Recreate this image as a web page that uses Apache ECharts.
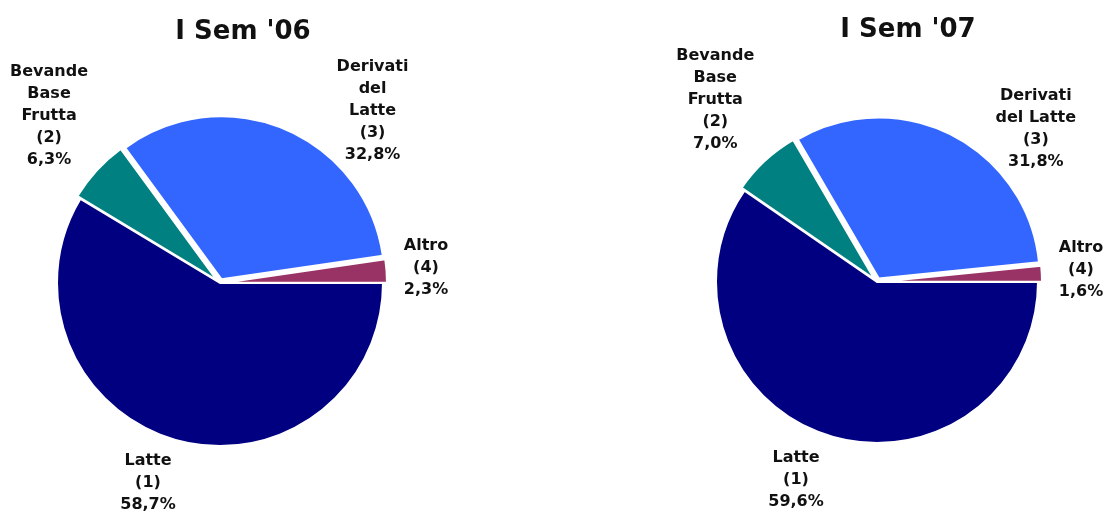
<!DOCTYPE html>
<html>
<head>
<meta charset="utf-8">
<script src="https://cdn.jsdelivr.net/npm/echarts@6/dist/echarts.min.js"></script>
<style>
  html, body { margin: 0; padding: 0; background: #fff; }
  #chart { width: 1109px; height: 512px; }
</style>
</head>
<body>
<div id="chart"></div>
<script>
// dati
var codes = [1, 2, 3, 4];
var colors = ['#000080', '#008080', '#3366ff', '#993366'];
var names06 = ['Latte', 'Bevande\nBase\nFrutta', 'Derivati\ndel\nLatte', 'Altro'];
var names07 = ['Latte', 'Bevande\nBase\nFrutta', 'Derivati\ndel Latte', 'Altro'];
var values06 = [58.7, 6.3, 32.8, 2.3];
var values07 = [59.6, 7.0, 31.8, 1.6];
var titles = ["I Sem '06", "I Sem '07"];

// centro del blocco di testo delle etichette
var labelPos = [
  [[148, 483], [52, 119], [371, 115], [422, 268]],
  [[796, 480], [718, 103], [1034, 132], [1077, 270]]
];

var font = 'DejaVu Sans';

function buildData(names, values) {
  return values.map(function (v, i) {
    return {
      name: names[i],
      value: v,
      selected: i > 0,
      itemStyle: { color: colors[i] }
    };
  });
}

function pieSeries(idx, names, values, center, radius) {
  return {
    type: 'pie',
    center: center,
    radius: radius,
    startAngle: 0,
    clockwise: true,
    selectedMode: 'multiple',
    selectedOffset: 4,
    animation: false,
    silent: true,
    itemStyle: { borderColor: '#fff', borderWidth: 2 },
    label: {
      show: true,
      position: 'outside',
      alignTo: 'none',
      overflow: 'none',
      formatter: function (p) {
        var lines = p.name.split('\n');
        lines.push('(' + codes[p.dataIndex] + ')');
        lines.push(p.value.toFixed(1).replace('.', ',') + '%');
        return lines.map(function (s) { return '{t|' + s + '}'; }).join('\n');
      },
      rich: {
        t: {
          width: 100,
          align: 'center',
          color: '#111',
          fontFamily: font,
          fontWeight: 'bold',
          fontSize: 16,
          lineHeight: 22
        }
      }
    },
    labelLine: { show: false },
    labelLayout: function (p) {
      var pos = labelPos[idx][p.dataIndex];
      var r = p.labelRect;
      return {
        dx: pos[0] - (r.x + r.width / 2),
        dy: pos[1] - (r.y + r.height / 2)
      };
    },
    data: buildData(names, values)
  };
}

var myChart = echarts.init(document.getElementById('chart'));
myChart.setOption({
  backgroundColor: '#fff',
  animation: false,
  title: [
    {
      text: titles[0], left: 243, top: 19, textAlign: 'center', padding: 0,
      textStyle: { fontFamily: font, fontWeight: 'bold', fontSize: 26, color: '#111' }
    },
    {
      text: titles[1], left: 908, top: 17, textAlign: 'center', padding: 0,
      textStyle: { fontFamily: font, fontWeight: 'bold', fontSize: 26, color: '#111' }
    }
  ],
  series: [
    pieSeries(0, names06, values06, [220, 283], 163),
    pieSeries(1, names07, values07, [877, 282], 161)
  ]
});
</script>
</body>
</html>
